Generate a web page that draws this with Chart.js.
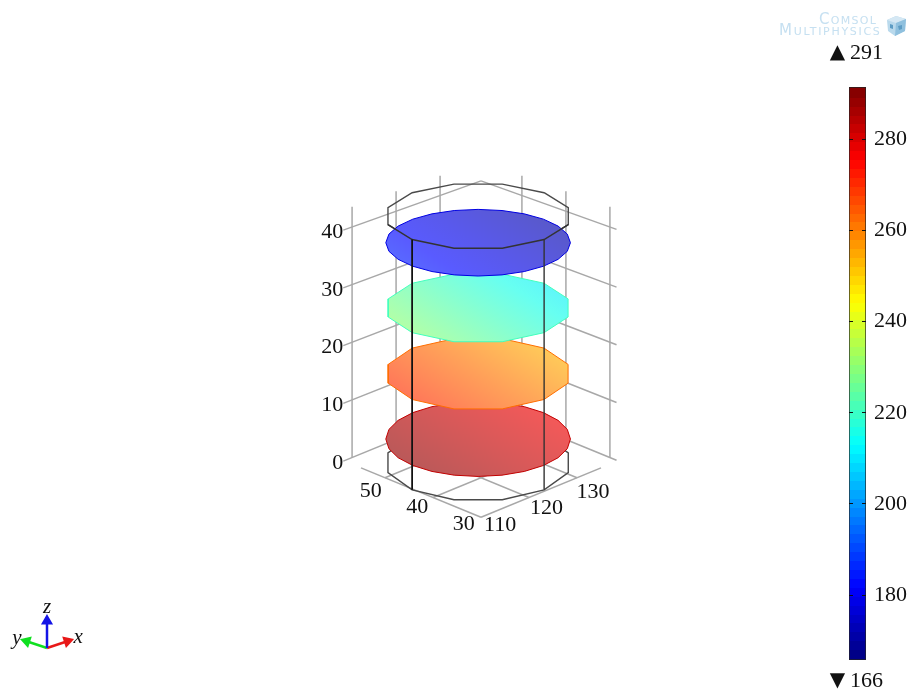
<!DOCTYPE html>
<html>
<head>
<meta charset="utf-8">
<title>Temperature slices</title>
<script src="https://cdn.jsdelivr.net/npm/chart.js@4/dist/chart.umd.min.js"></script>
<style>
  html, body { margin: 0; padding: 0; background: #fff; overflow: hidden; }
  #page { position: relative; width: 909px; height: 689px; }
  #scene { position: absolute; left: 0; top: 0; }
  #colorbar { position: absolute; left: 849px; top: 87px; }
  .logo { position: absolute; color: #c6e0f1; font-family: "DejaVu Sans", sans-serif; font-variant: small-caps; white-space: nowrap; }
</style>
</head>
<body>
<div id="page">
  <canvas id="scene" width="909" height="689"></canvas>
  <canvas id="colorbar" width="60" height="573"></canvas>
  <div class="logo" style="left:819px;top:10px;font-size:15px;letter-spacing:1.3px">Comsol</div>
  <div class="logo" style="left:779px;top:21px;font-size:15px;letter-spacing:1.7px">Multiphysics</div>
  <svg style="position:absolute;left:885px;top:14px" width="23" height="23" viewBox="0 0 23 23">
    <polygon points="2,6 11,2 21,5 20,17 10,22 3,17" fill="#b9d9ec"/>
    <polygon points="2,6 11,9 21,5 11,2" fill="#d5e8f4"/>
    <polygon points="11,9 10,22 20,17 21,5" fill="#8fc0de"/>
    <path d="M13 12 l4 -1 l0 4 l-3 1 z M5 10 l3 1 l0 4 l-3 -1 z" fill="#5d9cc4"/>
  </svg>
</div>
<script>
// Axis ticks
const zTicks = [0, 10, 20, 30, 40];
const xTicks = [110, 120, 130];
const yTicks = [30, 40, 50];

// Floor and back wall extents, model units
const floorX = [110, 135];
const floorY = [30, 55];
const wallX = [108, 139.3];
const wallY = [28.5, 59.3];
const wallZ = [0, 43.5];

// Wire cylinder
const cylCenter = [122.2, 42.8];
const cylRadius = 13.75;
const cylZ = [-0.3, 42.4];
const ringAngles = [0, 30, 60, 90, 120, 150, 180, 210, 240, 270, 300, 330];
const frontAngles = [150, 180, 210, 240, 270, 300];
const postAngles = [180, 270];

// Slices, top to bottom
const diskZ = [37.8, 26.5, 15.1, 3.8];
const diskRadius = [13.6, 13.72, 13.72, 13.6];
const diskCold = [170, 210, 252, 276];
const diskHot = [186, 232, 272, 290];
const roundAngles = [0, 15, 30, 45, 60, 75, 90, 105, 120, 135, 150, 165, 180, 195, 210, 225, 240, 255, 270, 285, 300, 315, 330, 345];
const diskAngles = [roundAngles, ringAngles, ringAngles, roundAngles];

// Colour bar
const barMin = 166;
const barMax = 291;
const barAxisMin = 165.8;
const barAxisMax = 291.4;
const barTicks = [180, 200, 220, 240, 260, 280];

// Projection settings for the 3D look
const sceneFrame = { cx: 481, cy: 461, zRate: 5.775, rate: 4.8, xc: 122.5, yc: 42.5, tilt: 0.41, drop: 0.0013 };
const wallFrame = { ...sceneFrame, rate: 4.4, xc: 123.7, yc: 43.7 };
const labelFrame = { cx: 481, cy: 468, zRate: 0, rate: 4.65, xc: 125.2, yc: 45.1, tilt: 0.355, drop: 0 };
const triadFrame = { cx: 47, cy: 648, zRate: 31, rate: 24, xc: 0, yc: 0, tilt: 0.33, drop: 0 };
const serif = '"Liberation Serif", "DejaVu Serif", serif';

function project(f, x, y, z) {
  const dx = x - f.xc, dy = y - f.yc;
  return {
    x: f.cx + f.rate * (dx - dy),
    y: f.cy - f.zRate * z - (f.tilt - f.drop * z) * f.rate * (dx + dy)
  };
}

function ringPoint(angle, radius, z) {
  const a = angle * Math.PI / 180;
  return project(sceneFrame, cylCenter[0] + radius * Math.cos(a), cylCenter[1] + radius * Math.sin(a), z);
}

// Jet colour for a temperature, optionally mixed with white
function jet(v, mix = 0) {
  const t = (v - barMin) / (barMax - barMin);
  const ch = c => Math.max(0, Math.min(1, 1.5 - Math.abs(4 * t - c)));
  const rgb = [ch(3), ch(2), ch(1)].map(c => Math.round(255 * (c * (1 - mix) + mix)));
  return `rgb(${rgb.join(',')})`;
}

function lineSet(points, color, width) {
  return { data: points, showLine: true, pointRadius: 0, borderColor: color, borderWidth: width, fill: false };
}

function arrowSet(tip, rotation, color) {
  return {
    data: [project(triadFrame, 0, 0, 0), project(triadFrame, tip[0], tip[1], tip[2])],
    showLine: true, borderColor: color, borderWidth: 2.5, backgroundColor: color, pointBorderColor: color,
    pointStyle: 'triangle', pointRadius: [0, 4.5], pointRotation: [0, rotation], fill: false
  };
}

function diskSet(i) {
  const pts = diskAngles[i].map(a => ringPoint(a, diskRadius[i], diskZ[i]));
  pts.push(pts[0]);
  return {
    data: pts, showLine: true, pointRadius: 0, borderWidth: 1,
    borderColor: jet((diskCold[i] + diskHot[i]) / 2),
    fill: 'shape',
    backgroundColor: ctx => {
      const { chartArea, scales } = ctx.chart;
      if (!chartArea) return 'transparent';
      const hot = ringPoint(200, diskRadius[i], diskZ[i]);
      const cold = ringPoint(20, diskRadius[i], diskZ[i]);
      const g = ctx.chart.ctx.createLinearGradient(
        scales.x.getPixelForValue(hot.x), scales.y.getPixelForValue(hot.y + 30),
        scales.x.getPixelForValue(cold.x), scales.y.getPixelForValue(cold.y - 30));
      for (let s = 0; s <= 4; s++) {
        g.addColorStop(s / 4, jet(diskHot[i] + (diskCold[i] - diskHot[i]) * s / 4, 0.35));
      }
      return g;
    }
  };
}

// Back to front list of scene datasets
function buildSceneDatasets() {
  const sets = [];
  const grey = '#a8a8a8';
  // Back walls
  zTicks.forEach(z => {
    sets.push(lineSet([project(wallFrame, wallX[0], wallY[1], z), project(wallFrame, wallX[1], wallY[1], z)], grey, 1.5));
    sets.push(lineSet([project(wallFrame, wallX[1], wallY[1], z), project(wallFrame, wallX[1], wallY[0], z)], grey, 1.5));
  });
  xTicks.forEach(x => sets.push(lineSet([project(wallFrame, x, wallY[1], wallZ[0]), project(wallFrame, x, wallY[1], wallZ[1])], grey, 1.5)));
  yTicks.forEach(y => sets.push(lineSet([project(wallFrame, wallX[1], y, wallZ[0]), project(wallFrame, wallX[1], y, wallZ[1])], grey, 1.5)));
  // Floor
  xTicks.forEach(x => sets.push(lineSet([project(sceneFrame, x, floorY[0], -1.2), project(sceneFrame, x, floorY[1], -1.2)], grey, 1.5)));
  yTicks.forEach(y => sets.push(lineSet([project(sceneFrame, floorX[0], y, -1.2), project(sceneFrame, floorX[1], y, -1.2)], grey, 1.5)));
  // Wire rings behind the slices
  cylZ.forEach(z => {
    const ring = ringAngles.map(a => ringPoint(a, cylRadius, z));
    ring.push(ring[0]);
    sets.push(lineSet(ring, '#4a4a4a', 1.4));
  });
  // Slices, lowest first
  for (let i = diskZ.length - 1; i >= 0; i--) sets.push(diskSet(i));
  // Wire parts in front of the slices
  sets.push(lineSet(frontAngles.map(a => ringPoint(a, cylRadius, cylZ[1])), '#333333', 1.5));
  postAngles.forEach((a, i) => {
    sets.push(lineSet(cylZ.map(z => ringPoint(a, cylRadius, z)), i === 0 ? '#111111' : '#333333', i === 0 ? 1.8 : 1.4));
  });
  // Orientation triad
  sets.push(arrowSet([0, 0.85, 0], -72, '#10e020'));
  sets.push(arrowSet([0.85, 0, 0], 72, '#e81818'));
  sets.push(arrowSet([0, 0, 0.87], 0, '#1414e6'));
  // first dataset is painted on top in Chart.js
  return sets.reverse();
}

// Tick and triad text for the scene
const sceneText = {
  id: 'sceneText',
  afterDatasetsDraw(chart) {
    const { ctx, scales } = chart;
    const put = (text, p, align = 'center') => {
      ctx.textAlign = align;
      ctx.fillText(text, scales.x.getPixelForValue(p.x), scales.y.getPixelForValue(p.y));
    };
    ctx.save();
    ctx.fillStyle = '#111';
    ctx.textBaseline = 'middle';
    ctx.font = `22px ${serif}`;
    zTicks.forEach(z => {
      const p = project(wallFrame, wallX[0], wallY[1], z);
      put(String(z), { x: p.x, y: p.y + 2 }, 'right');
    });
    xTicks.forEach(x => put(String(x), project(labelFrame, x, 25.8, 0)));
    yTicks.forEach(y => put(String(y), project(labelFrame, 106.4, y, 0)));
    put(String(barMax), { x: 850, y: 53 }, 'left');
    put(String(barMin), { x: 850, y: 681 }, 'left');
    ctx.font = '20px "DejaVu Sans"';
    put('▲', { x: 837.5, y: 53 });
    put('▼', { x: 837.5, y: 681 });
    ctx.font = `italic 21px ${serif}`;
    put('x', project(triadFrame, 1.3, 0, 0));
    put('y', project(triadFrame, 0, 1.25, 0));
    put('z', project(triadFrame, 0, 0, 1.32));
    ctx.restore();
  }
};

// Render the scene
function renderScene() {
  new Chart(document.getElementById('scene'), {
    type: 'scatter',
    data: { datasets: buildSceneDatasets() },
    options: {
      responsive: false,
      animation: false,
      layout: { padding: 0, autoPadding: false },
      plugins: { legend: { display: false }, tooltip: { enabled: false } },
      scales: {
        x: { type: 'linear', display: false, min: 0, max: 909 },
        y: { type: 'linear', display: false, reverse: true, min: 0, max: 689 }
      }
    },
    plugins: [sceneText]
  });
}

// Render the colour bar
function renderColorbar() {
  new Chart(document.getElementById('colorbar'), {
    type: 'bar',
    data: {
      labels: ['T'],
      datasets: [{
        data: [[barAxisMin, barAxisMax]],
        categoryPercentage: 1,
        barPercentage: 1,
        borderWidth: 1,
        borderSkipped: false,
        borderColor: '#222',
        backgroundColor: ctx => {
          const { chartArea, scales } = ctx.chart;
          if (!chartArea) return 'transparent';
          const y = scales.y;
          const g = ctx.chart.ctx.createLinearGradient(0, y.getPixelForValue(barMin), 0, y.getPixelForValue(barMax));
          const bands = 64;
          for (let i = 0; i < bands; i++) {
            const c = jet(barMin + (barMax - barMin) * (i + 0.5) / bands);
            g.addColorStop(i / bands, c);
            g.addColorStop((i + 1) / bands, c);
          }
          return g;
        }
      }]
    },
    options: {
      responsive: false,
      animation: false,
      layout: { padding: 0, autoPadding: false },
      plugins: { legend: { display: false }, tooltip: { enabled: false } },
      scales: {
        x: { display: false },
        y: {
          position: 'right',
          min: barAxisMin,
          max: barAxisMax,
          afterBuildTicks: s => { s.ticks = barTicks.map(v => ({ value: v })); },
          afterFit: s => { s.width = 43; s.paddingTop = 0; s.paddingBottom = 0; },
          border: { display: false, dash: [4, 9] },
          grid: { color: '#111', drawTicks: false, z: 1 },
          ticks: { color: '#111', padding: 8, font: { family: serif, size: 22 }, maxRotation: 0 }
        }
      }
    }
  });
}

renderScene();
renderColorbar();
</script>
</body>
</html>
